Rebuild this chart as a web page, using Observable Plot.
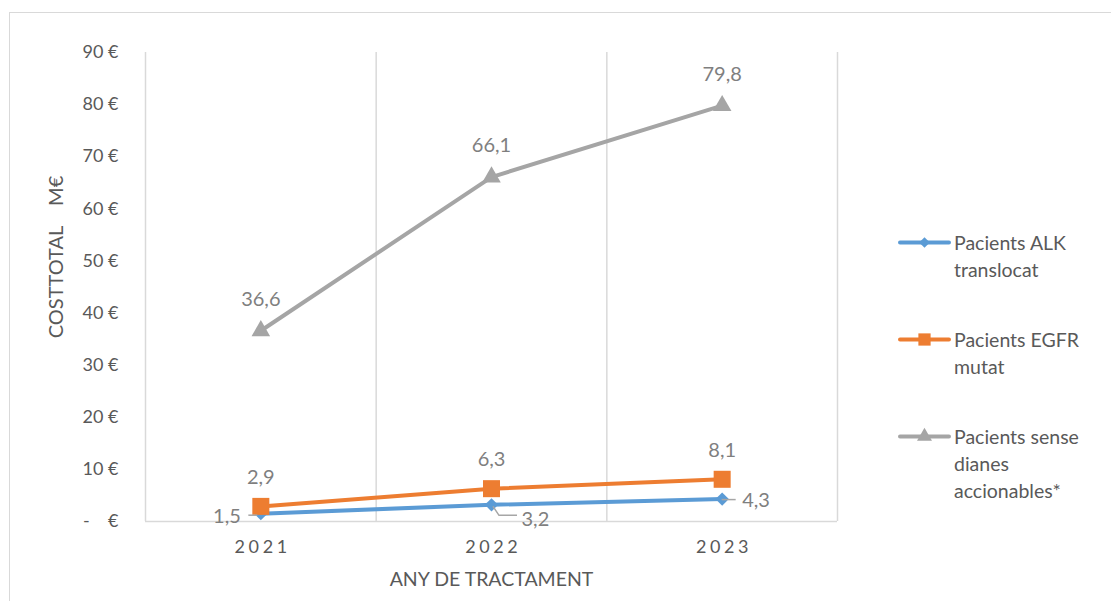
<!DOCTYPE html>
<html>
<head>
<meta charset="utf-8">
<script src="https://cdn.jsdelivr.net/npm/d3@7"></script>
<script src="https://cdn.jsdelivr.net/npm/@observablehq/plot@0.6"></script>
<style>
  body { margin: 0; background: #fff; overflow: hidden; }
  #chart { position: relative; width: 1111px; height: 601px; font-family: Lato, "Open Sans", sans-serif; color: #595959; }
  #frame { position: absolute; left: 9px; top: 12px; width: 1110px; height: 600px; border: 1.5px solid #d9d9d9; box-sizing: border-box; pointer-events: none; }
  #plot { position: absolute; left: 0; top: 0; }
  #ytitle { position: absolute; left: 55px; top: 257px; transform: translate(-50%, -50%) rotate(-90deg); white-space: pre; font-size: 20px; }
  #legend { position: absolute; left: 898px; top: 229px; display: flex; flex-direction: column; gap: 43px; }
  .entry { display: flex; align-items: flex-start; }
  .entry svg { flex: none; }
  .entry span { font-size: 19.5px; line-height: 27px; margin-left: 3px; width: 160px; }
</style>
</head>
<body>
<div id="chart">
  <div id="frame"></div>
  <div id="plot"></div>
  <div id="ytitle"></div>
  <div id="legend"></div>
</div>
<script>
// Yearly total treatment cost (M€) per patient group
const years = ["2021", "2022", "2023"];
const alkValues = [1.5, 3.2, 4.3];
const egfrValues = [2.9, 6.3, 8.1];
const senseValues = [36.6, 66.1, 79.8];
const seriesNames = ["Pacients ALK translocat", "Pacients EGFR mutat", "Pacients sense dianes accionables*"];
const yTicks = [0, 10, 20, 30, 40, 50, 60, 70, 80, 90];
const xTitle = "ANY DE TRACTAMENT";
const yTitle = "COSTTOTAL    M€";

const colors = ["#5b9bd5", "#ed7d31", "#a5a5a5"];
const symbols = ["diamond2", "square", "triangle"];
const radii = [6, 9.6, 6.9];
const labelColor = "#7f7f7f";

const comma = d3.formatLocale({decimal: ",", thousands: ".", grouping: [3], currency: ["", " €"]}).format(".1f");

const series = [alkValues, egfrValues, senseValues].map((vals, s) =>
  vals.map((v, i) => ({i, v, s: seriesNames[s]}))
);
const [alk, egfr, sense] = series;

// Leader lines for the ALK value labels, drawn in screen space from each point
const leaders = (index, {x, y}) => {
  const g = d3.create("svg:g").attr("fill", "none").attr("stroke", "#a6a6a6").attr("stroke-width", 1.5);
  const p = alk.map(d => [x(d.i), y(d.v)]);
  g.append("path").attr("d", `M${p[0][0] - 3},${p[0][1] + 2}H${p[0][0] - 12}`);
  g.append("path").attr("d", `M${p[1][0] + 2},${p[1][1] + 2}L${p[1][0] + 8},${p[1][1] + 11}H${p[1][0] + 26}`);
  g.append("path").attr("d", `M${p[2][0]},${p[2][1] + 1}H${p[2][0] + 14}`);
  return g.node();
};

const seriesMarks = series.flatMap((data, s) => [
  Plot.line(data, {x: "i", y: "v", stroke: colors[s], strokeWidth: 4, curve: "linear"}),
  Plot.dot(data, {x: "i", y: "v", symbol: () => symbols[s], r: radii[s], fill: colors[s], stroke: "none"})
]);

const chart = Plot.plot({
  width: 1111,
  height: 601,
  marginLeft: 145,
  marginRight: 274,
  marginTop: 52,
  marginBottom: 80,
  style: {fontFamily: "Lato, 'Open Sans', sans-serif", fontSize: "18px", color: "#595959", background: "transparent", overflow: "visible"},
  x: {domain: [-0.5, years.length - 0.5]},
  y: {domain: [0, 90]},
  symbol: {type: "identity"},
  marks: [
    // category boundaries
    Plot.ruleX(d3.range(years.length + 1).map(i => i - 0.5), {stroke: "#d9d9d9", strokeWidth: 1.5}),
    Plot.ruleY([0], {stroke: "#d9d9d9", strokeWidth: 1.5}),
    Plot.axisY(yTicks, {
      tickSize: 0, tickPadding: 27, label: null, fontSize: 18,
      tickFormat: d => d === 0 ? "-\u00a0\u00a0\u00a0\u00a0€" : `${d}\u00a0€`
    }),
    Plot.axisX(years.map((_, i) => i), {tickSize: 0, tickPadding: 19, label: null, fontSize: 18, dx: 1.8, tickFormat: i => years[i]}),
    Plot.text([xTitle], {frameAnchor: "bottom", lineAnchor: "middle", dy: 58, fontSize: 19.5, fill: "#595959"}),
    ...seriesMarks,
    leaders,
    // value labels
    Plot.text(sense, {x: "i", y: "v", text: d => comma(d.v), dy: -31, fontSize: 20, fill: labelColor}),
    Plot.text(egfr, {x: "i", y: "v", text: d => comma(d.v), dy: -29, fontSize: 20, fill: labelColor}),
    Plot.text(alk, {filter: d => d.i === 0, x: "i", y: "v", text: d => comma(d.v), dx: -20, dy: 3, textAnchor: "end", fontSize: 20, fill: labelColor}),
    Plot.text(alk, {filter: d => d.i === 1, x: "i", y: "v", text: d => comma(d.v), dx: 30, dy: 15, textAnchor: "start", fontSize: 20, fill: labelColor}),
    Plot.text(alk, {filter: d => d.i === 2, x: "i", y: "v", text: d => comma(d.v), dx: 20, dy: 2, textAnchor: "start", fontSize: 20, fill: labelColor})
  ]
});

d3.select(chart).selectAll('g[aria-label="x-axis tick label"] text').style("letter-spacing", "3.6px");
document.getElementById("plot").append(chart);
document.getElementById("ytitle").textContent = yTitle;

// Legend
const legend = d3.select("#legend");
seriesNames.forEach((name, s) => {
  const row = legend.append("div").attr("class", "entry");
  const sw = row.append("svg").attr("width", 53).attr("height", 27);
  sw.append("line").attr("x1", 2).attr("x2", 51).attr("y1", 13.5).attr("y2", 13.5)
    .attr("stroke", colors[s]).attr("stroke-width", 4).attr("stroke-linecap", "round");
  const sym = d3.symbol(d3["symbol" + ["Diamond2", "Square", "Triangle"][s]], [72, 150, 97][s]);
  sw.append("path").attr("d", sym()).attr("transform", "translate(26.5,13.5)").attr("fill", colors[s]);
  row.append("span").text(name);
});
</script>
</body>
</html>
